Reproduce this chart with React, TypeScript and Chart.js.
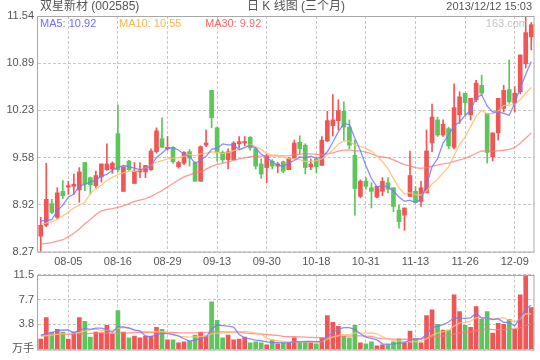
import React, { useEffect, useRef } from 'react';
import { Chart, registerables } from 'chart.js';

Chart.register(...registerables);

// ---- data ----
const dates = [
  '07-29','07-30','07-31','08-01','08-02','08-05','08-06','08-07','08-08','08-09',
  '08-12','08-13','08-14','08-15','08-16','08-19','08-20','08-21','08-22','08-23',
  '08-26','08-27','08-28','08-29','08-30','09-02','09-03','09-04','09-05','09-06',
  '09-09','09-12','09-13','09-16','09-17','09-18','09-23','09-24','09-25','09-26',
  '09-27','09-30','10-08','10-09','10-10','10-11','10-14','10-15','10-16','10-17',
  '10-18','10-21','10-22','10-23','10-24','10-25','10-28','10-29','10-30','10-31',
  '11-01','11-04','11-05','11-06','11-07','11-08','11-11','11-12','11-13','11-14',
  '11-15','11-18','11-19','11-20','11-21','11-22','11-25','11-26','11-27','11-28',
  '11-29','12-02','12-03','12-04','12-05','12-06','12-09','12-10','12-11','12-12'
];

const xTickLabels = ['08-05','08-16','08-29','09-13','09-30','10-18','10-31','11-13','11-26','12-09'];

const opens = [
  8.49, 8.64, 8.94, 8.75, 9.11, 9.17, 9.18, 9.13, 9.51, 9.30,
  9.19, 9.31, 9.41, 9.42, 9.91, 9.11, 9.53, 9.22, 9.38, 9.38,
  9.41, 9.66, 9.84, 9.70, 9.72, 9.45, 9.50, 9.66, 9.51, 9.25,
  9.75, 10.51, 9.99, 9.65, 9.55, 9.55, 9.77, 9.78, 9.86, 9.70,
  9.49, 9.44, 9.53, 9.46, 9.52, 9.41, 9.57, 9.79, 9.75, 9.45,
  9.56, 9.47, 9.81, 10.02, 10.09, 10.22, 10.00, 9.61, 9.04, 9.25,
  9.16, 9.03, 9.11, 9.23, 9.16, 8.85, 8.78, 9.04, 9.11, 8.97,
  9.09, 9.78, 10.10, 9.89, 9.98, 9.72, 10.17, 10.47, 10.17, 10.38,
  10.58, 10.19, 9.59, 9.92, 10.26, 10.52, 10.33, 10.49, 10.88, 11.25
];
const highs = [
  8.75, 9.50, 9.00, 9.16, 9.26, 9.25, 9.35, 9.44, 9.51, 9.31,
  9.39, 9.49, 9.77, 9.52, 10.31, 9.45, 9.54, 9.51, 9.51, 9.47,
  9.70, 9.99, 10.13, 9.87, 9.73, 9.53, 9.66, 9.69, 9.52, 9.74,
  9.96, 10.51, 10.00, 9.67, 9.70, 9.80, 9.87, 9.87, 9.87, 9.72,
  9.56, 9.63, 9.55, 9.51, 9.53, 9.58, 9.82, 9.88, 9.77, 9.56,
  9.58, 9.87, 10.22, 10.45, 10.38, 10.35, 10.10, 9.82, 9.27, 9.30,
  9.23, 9.18, 9.30, 9.30, 9.16, 8.92, 8.88, 9.67, 9.18, 9.25,
  9.96, 10.32, 10.14, 10.10, 10.00, 10.60, 10.49, 10.47, 10.40, 10.65,
  10.72, 10.19, 9.92, 10.40, 10.58, 10.93, 10.56, 11.00, 11.53, 11.45
];
const lows = [
  8.28, 8.62, 8.80, 8.73, 9.01, 9.07, 9.07, 8.96, 9.12, 9.07,
  9.16, 9.24, 9.40, 9.36, 9.38, 9.11, 9.40, 9.22, 9.30, 9.30,
  9.40, 9.64, 9.72, 9.68, 9.50, 9.43, 9.48, 9.46, 9.25, 9.25,
  9.73, 9.99, 9.53, 9.51, 9.42, 9.55, 9.71, 9.74, 9.68, 9.42,
  9.29, 9.23, 9.42, 9.37, 9.37, 9.41, 9.57, 9.63, 9.35, 9.41,
  9.37, 9.47, 9.80, 9.88, 9.96, 9.82, 9.70, 8.78, 9.02, 9.14,
  8.88, 9.02, 9.05, 9.09, 8.83, 8.60, 8.57, 9.04, 8.95, 8.90,
  9.09, 9.66, 9.87, 9.87, 9.70, 9.70, 10.05, 10.17, 10.10, 10.35,
  10.44, 9.50, 9.53, 9.82, 10.21, 10.33, 10.21, 10.46, 10.82, 11.07
];
const closes = [
  8.64, 9.00, 8.82, 9.09, 9.05, 9.19, 9.21, 9.38, 9.21, 9.20,
  9.33, 9.49, 9.49, 9.50, 9.41, 9.45, 9.41, 9.39, 9.40, 9.47,
  9.67, 9.95, 9.72, 9.72, 9.52, 9.51, 9.65, 9.57, 9.25, 9.73,
  9.78, 10.13, 9.65, 9.55, 9.66, 9.78, 9.80, 9.80, 9.71, 9.46,
  9.35, 9.60, 9.46, 9.49, 9.39, 9.57, 9.78, 9.70, 9.44, 9.49,
  9.45, 9.82, 10.09, 10.10, 10.23, 10.00, 9.75, 9.15, 9.25, 9.18,
  9.11, 9.18, 9.25, 9.14, 8.90, 8.69, 8.88, 9.33, 8.96, 9.16,
  9.67, 10.14, 9.89, 10.04, 9.74, 10.27, 10.42, 10.34, 10.40, 10.61,
  10.47, 9.65, 9.92, 10.40, 10.51, 10.35, 10.47, 11.00, 11.31, 11.42
];
// volume, 万手
const volumes = [
  1.6, 4.9, 2.66, 3.1, 2.66, 1.6, 2.66, 4.9, 4.3, 1.9,
  2.66, 2.56, 3.7, 2.36, 5.97, 2.66, 1.76, 2.06, 1.76, 2.06,
  2.06, 3.41, 3.1, 1.46, 1.46, 1.0, 1.15, 1.3, 2.2, 2.66,
  2.06, 7.33, 4.47, 1.76, 2.2, 1.46, 1.6, 1.9, 1.0, 1.15,
  1.0, 0.7, 1.46, 0.85, 1.0, 1.0, 1.76, 1.15, 1.15, 1.0,
  0.85, 1.76, 5.2, 4.17, 3.56, 2.06, 1.76, 3.7, 1.0, 0.85,
  1.15, 0.55, 0.7, 0.7, 1.15, 1.6, 1.0, 2.81, 1.6, 1.0,
  5.2, 6.1, 3.86, 2.96, 2.96, 8.38, 5.82, 3.7, 3.41, 6.58,
  4.62, 5.82, 2.51, 4.0, 3.86, 4.62, 3.1, 8.38, 11.4, 6.43
];

// moving-average values before enough history exists inside the window
const ma5Head = [8.70, 8.71, 8.72, 8.84];
const ma10Head = [8.66, 8.67, 8.69, 8.72, 8.77, 8.82, 8.88, 8.92, 8.96];
const ma30Head = [
  8.38, 8.39, 8.40, 8.42, 8.44, 8.48, 8.53, 8.59, 8.66, 8.72,
  8.79, 8.84, 8.86, 8.87, 8.89, 8.91, 8.94, 8.97, 8.99, 9.01,
  9.04, 9.08, 9.12, 9.17, 9.22, 9.27, 9.31, 9.34, 9.37
];
const vma5Head = [2.2, 2.4, 2.6, 2.9];
const vma10Head = [2.0, 2.1, 2.2, 2.3, 2.4, 2.4, 2.5, 2.6, 2.8];
const vma30Head = [
  2.2, 2.2, 2.25, 2.3, 2.3, 2.3, 2.35, 2.4, 2.4, 2.45,
  2.45, 2.5, 2.5, 2.5, 2.55, 2.55, 2.55, 2.6, 2.6, 2.6,
  2.6, 2.6, 2.6, 2.6, 2.6, 2.55, 2.55, 2.55, 2.55
];

const priceTicks = [8.27, 8.924, 9.578, 10.232, 10.886, 11.54];
const priceTickLabels = ['8.27', '8.92', '9.58', '10.23', '10.89', '11.54'];
const volTicks = [0, 11.5 / 3, 23 / 3, 11.5];
const volTickLabels = ['万手', '3.8', '7.7', '11.5'];

const titleText = '双星新材 (002585)';
const centerText = '日 K 线图 (三个月)';
const timeText = '2013/12/12 15:03';
const legendTexts = ['MA5: 10.92', 'MA10: 10.55', 'MA30: 9.92'];
const watermark = '163.com';

// ---- styles ----
const RED = '#ef5757';
const GREEN = '#5cc55c';
const C_MA5 = 'rgba(120,120,255,0.85)';
const C_MA10 = 'rgba(255,190,110,0.85)';
const C_MA30 = 'rgba(255,120,120,0.75)';
const GRID = '#c8c8c8';
const FRAME = '#a8a8a8';
const TEXT = '#555555';
const FONT = "'Liberation Sans', 'Noto Sans CJK SC', sans-serif";

function movingAverage(values: number[], n: number, head: number[]): number[] {
  return values.map((_, i) => {
    if (i < n - 1) return head[i];
    let s = 0;
    for (let k = i - n + 1; k <= i; k++) s += values[k];
    return s / n;
  });
}

const isUp = closes.map((c, i) => c >= opens[i]);
const candleColors = isUp.map(u => (u ? RED : GREEN));

const framePlugin = {
  id: 'frameBox',
  afterDatasetsDraw(chart: any) {
    const { ctx, chartArea: a } = chart;
    ctx.save();
    ctx.strokeStyle = FRAME;
    ctx.lineWidth = 1;
    ctx.strokeRect(Math.round(a.left) - 0.5, Math.round(a.top) + 0.5,
      Math.round(a.right - a.left) + 0.5, Math.round(a.bottom - a.top) - 0.5);
    ctx.restore();
  }
};

const textPlugin = {
  id: 'texts',
  afterDraw(chart: any) {
    const { ctx } = chart;
    ctx.save();
    ctx.textBaseline = 'middle';
    ctx.font = `12px ${FONT}`;
    ctx.fillStyle = TEXT;
    ctx.textAlign = 'left';
    ctx.fillText(titleText, 40, 7);
    ctx.textAlign = 'center';
    ctx.fillText(centerText, 296, 7);
    ctx.textAlign = 'right';
    ctx.font = `11px ${FONT}`;
    ctx.fillText(timeText, 532, 7);
    ctx.textAlign = 'left';
    ctx.font = `11px ${FONT}`;
    ctx.fillStyle = '#6f6fff';
    ctx.fillText(legendTexts[0], 40, 24);
    ctx.fillStyle = '#ffb64f';
    ctx.fillText(legendTexts[1], 119, 24);
    ctx.fillStyle = '#ff6a6a';
    ctx.fillText(legendTexts[2], 205, 24);
    ctx.fillStyle = '#c4c4c4';
    ctx.textAlign = 'right';
    ctx.fillText(watermark, 528, 24);
    ctx.restore();
  }
};

function xGridColor(ctx: any) {
  return xTickLabels.includes(dates[ctx.index]) ? GRID : 'rgba(0,0,0,0)';
}

export default function App() {
  const priceRef = useRef<HTMLCanvasElement>(null);
  const volRef = useRef<HTMLCanvasElement>(null);

  useEffect(() => {
    const ma5 = movingAverage(closes, 5, ma5Head);
    const ma10 = movingAverage(closes, 10, ma10Head);
    const ma30 = movingAverage(closes, 30, ma30Head);
    const vma5 = movingAverage(volumes, 5, vma5Head);
    const vma10 = movingAverage(volumes, 10, vma10Head);
    const vma30 = movingAverage(volumes, 30, vma30Head);

    const lineDs = (data: number[], color: string) => ({
      type: 'line' as const,
      data,
      borderColor: color,
      borderWidth: 1.3,
      pointRadius: 0,
      tension: 0,
      fill: false,
      order: 0,
    });

    const c1 = new Chart(priceRef.current as HTMLCanvasElement, {
      type: 'bar',
      data: {
        labels: dates,
        datasets: [
          lineDs(ma5, C_MA5) as any,
          lineDs(ma10, C_MA10) as any,
          lineDs(ma30, C_MA30) as any,
          {
            type: 'bar',
            data: lows.map((l, i) => [l, highs[i]]),
            backgroundColor: candleColors,
            barThickness: 1,
            grouped: false,
            order: 2,
          } as any,
          {
            type: 'bar',
            data: opens.map((o, i) => [o, closes[i]]),
            backgroundColor: candleColors,
            barThickness: 4,
            minBarLength: 1,
            grouped: false,
            order: 1,
          } as any,
        ],
      },
      options: {
        animation: false,
        responsive: false,
        maintainAspectRatio: false,
        layout: { padding: { left: 0, right: 6, top: 16, bottom: 0 } },
        plugins: { legend: { display: false }, tooltip: { enabled: false } },
        scales: {
          x: {
            offset: true,
            grid: { offset: false, color: xGridColor, drawTicks: false, lineWidth: 1 },
            border: { display: false, dash: [3, 2] },
            ticks: {
              autoSkip: false,
              maxRotation: 0,
              padding: 3,
              color: TEXT,
              font: { size: 11, family: FONT },
              callback: (_v: any, i: number) => (xTickLabels.includes(dates[i]) ? dates[i] : ''),
            },
            afterFit: (s: any) => { s.height = 18; },
          },
          y: {
            min: 8.27,
            max: 11.54,
            afterBuildTicks: (s: any) => { s.ticks = priceTicks.map(v => ({ value: v })); },
            grid: { color: GRID, drawTicks: false, lineWidth: 1 },
            border: { display: false, dash: [3, 2] },
            ticks: {
              padding: 4,
              color: TEXT,
              font: { size: 11, family: FONT },
              callback: (_v: any, i: number) => priceTickLabels[i],
            },
            afterFit: (s: any) => { s.width = 38; },
          },
        },
      } as any,
      plugins: [framePlugin, textPlugin],
    });

    const c2 = new Chart(volRef.current as HTMLCanvasElement, {
      type: 'bar',
      data: {
        labels: dates,
        datasets: [
          lineDs(vma5, C_MA5) as any,
          lineDs(vma10, C_MA10) as any,
          lineDs(vma30, C_MA30) as any,
          {
            type: 'bar',
            data: volumes,
            backgroundColor: candleColors,
            barThickness: 4,
            grouped: false,
            order: 1,
          } as any,
        ],
      },
      options: {
        animation: false,
        responsive: false,
        maintainAspectRatio: false,
        layout: { padding: { left: 0, right: 6, top: 10, bottom: 9 } },
        plugins: { legend: { display: false }, tooltip: { enabled: false } },
        scales: {
          x: {
            offset: true,
            grid: { offset: false, color: xGridColor, drawTicks: false, lineWidth: 1 },
            border: { display: false, dash: [3, 2] },
            ticks: { display: false, autoSkip: false },
            afterFit: (s: any) => { s.height = 0; },
          },
          y: {
            min: 0,
            max: 11.5,
            afterBuildTicks: (s: any) => { s.ticks = volTicks.map(v => ({ value: v })); },
            grid: { color: GRID, drawTicks: false, lineWidth: 1 },
            border: { display: false, dash: [3, 2] },
            ticks: {
              padding: 4,
              color: TEXT,
              font: { size: 11, family: FONT },
              callback: (_v: any, i: number) => volTickLabels[i],
            },
            afterFit: (s: any) => { s.width = 38; },
          },
        },
      } as any,
      plugins: [framePlugin],
    });

    return () => { c1.destroy(); c2.destroy(); };
  }, []);

  return (
    <div style={{ position: 'fixed', left: 0, top: 0, width: 540, height: 360, background: '#ffffff' }}>
      <canvas ref={priceRef} width={540} height={270}
        style={{ position: 'absolute', left: 0, top: 0, width: 540, height: 270 }} />
      <canvas ref={volRef} width={540} height={96}
        style={{ position: 'absolute', left: 0, top: 264, width: 540, height: 96 }} />
    </div>
  );
}
